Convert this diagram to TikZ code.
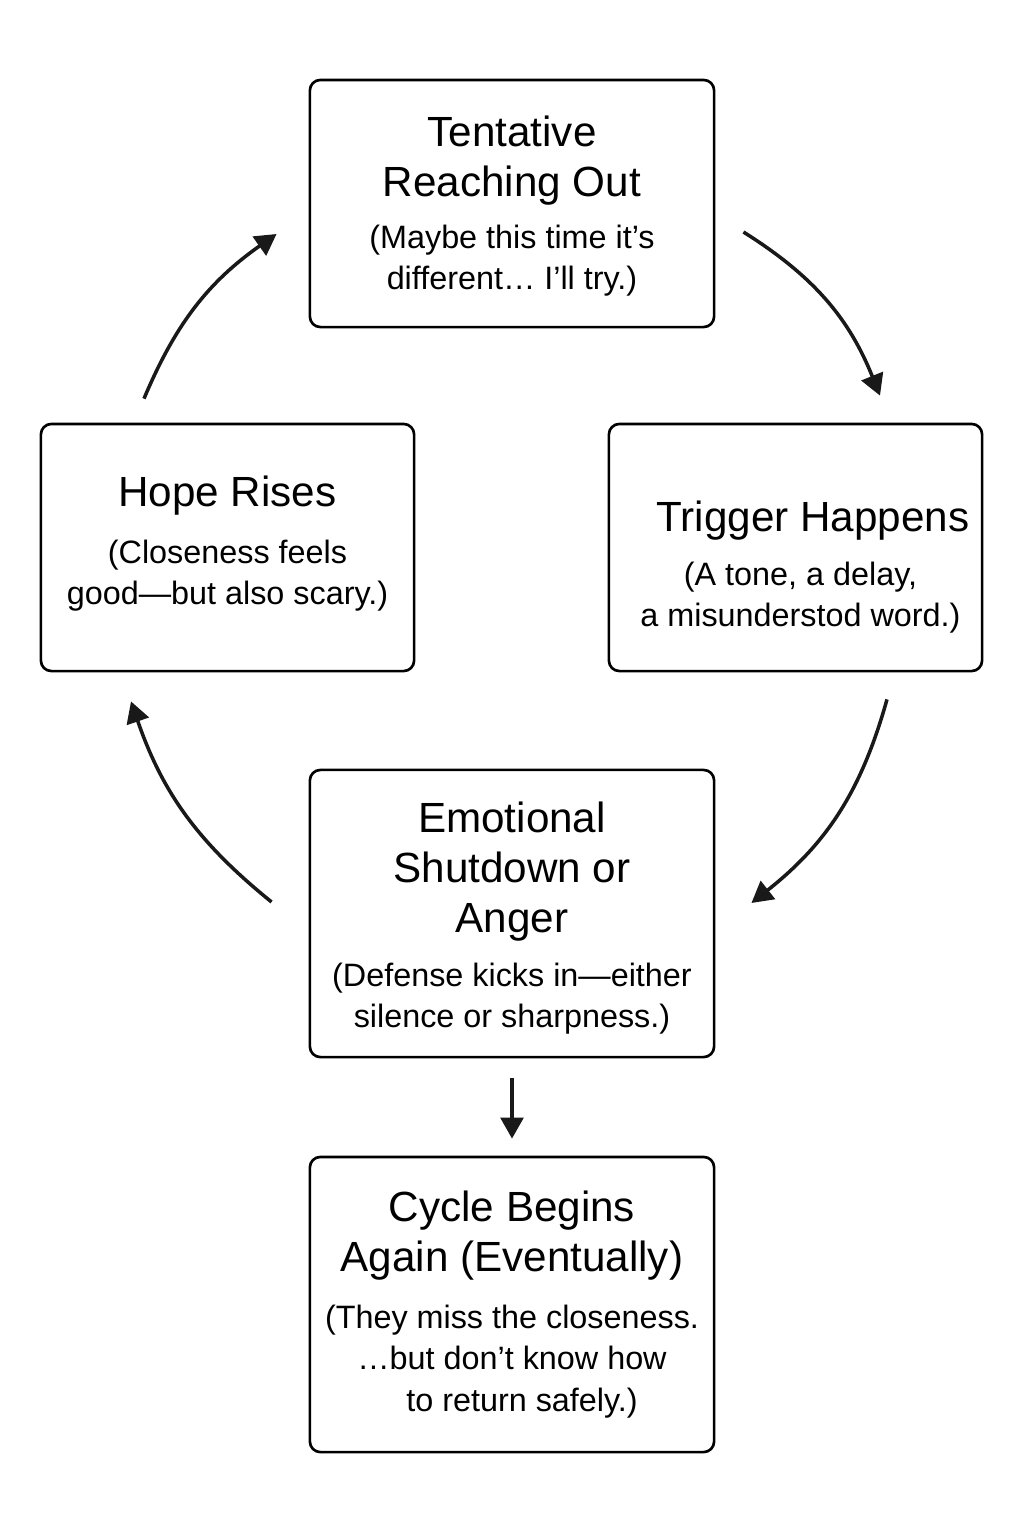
\documentclass[tikz,border=0pt]{standalone}
\usepackage{fontspec}
\setmainfont{Liberation Sans}
\usetikzlibrary{arrows.meta}
\newcommand\boxttl{\fontsize{12}{14.2}\selectfont}
\newcommand\boxsub{\fontsize{9.2}{11.7}\selectfont}
\begin{document}
\begin{tikzpicture}[
		x=0.01cm, y=-0.01cm,
		stage/.style={draw, rounded corners=3pt, line width=0.75pt, align=center, font=\boxttl, inner sep=0pt, minimum width=4.04cm, minimum height=2.47cm},
		side/.style={stage, minimum width=3.73cm},
		flow/.style={-{Triangle[length=6pt,width=6.5pt]}, line width=1pt, black!90}
	]
	\path[use as bounding box, fill=white] (0,0) rectangle (1024,1536);
	\node[stage] (reach) at (512,203.5) {\rule{0pt}{10.3pt}Tentative\\Reaching Out\\[0.5pt]\boxsub (Maybe this time it’s\\[-2.5pt]\boxsub different… I’ll try.)};
	\node[side] (hope) at (227.5,547.5) {Hope Rises\\[2pt]\boxsub (Closeness feels\\[-2.5pt]\boxsub good—but also scary.\rule[-4.2pt]{0pt}{1pt})};
	\node[side] (trigger) at (795.5,547.5) {\rule{0pt}{20pt}\hspace*{0.35cm}Trigger Happens\\[1.1pt]\boxsub\hspace*{0.1cm}(A tone, a delay,\\[-2.5pt]\boxsub\hspace*{0.1cm}a misunderstod word.)};
	\node[stage, minimum height=2.87cm] (shutdown) at (512,913.5) {\rule{0pt}{11.4pt}Emotional\\Shutdown or\\Anger\\[1.1pt]\boxsub (Defense kicks in—either\\[-2.5pt]\boxsub silence or sharpness.)};
	\node[stage, minimum height=2.95cm] (again) at (512,1304.5) {Cycle Begins\\Again (Eventually)\\[2pt]\boxsub (They miss the closeness.\\[-2.5pt]\boxsub …but don’t know how\\[-2.5pt]\boxsub\hspace*{0.2cm}to return safely.)};
	\draw[flow] ([shift={(28,28.5)}]reach.east) to[bend left=18] ([shift={(84.5,-27)}]trigger.north);
	\draw[flow] ([shift={(91.5,27)}]trigger.south) to[bend left=18] ([shift={(36,-10.5)}]shutdown.east);
	\draw[flow] ([shift={(-37,-11.5)}]shutdown.west) to[bend left=16] ([shift={(-96.5,29)}]hope.south);
	\draw[flow] ([shift={(-83.5,-24)}]hope.north) to[bend left=16] ([shift={(-32,30.5)}]reach.west);
	\draw[flow, shorten <=0.2cm, shorten >=0.17cm] (shutdown.south) -- (again.north);
\end{tikzpicture}
\end{document}
